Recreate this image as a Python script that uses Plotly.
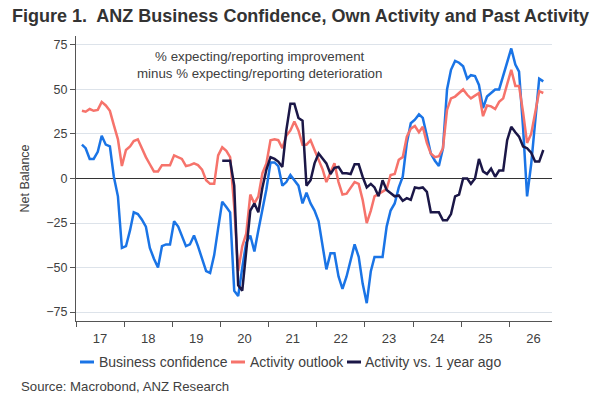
import pandas as pd
import plotly.graph_objects as go

dates = pd.date_range("2017-01-15", periods=116, freq="MS") + pd.Timedelta(days=14)

business_confidence = [
    19, 17, 11, 11, 15, 24, 19, 18, 1, -10, -39, -38,
    -29, -19, -20, -23, -27, -39, -45, -50, -38, -37, -37, -24,
    -27, -32, -38, -37, -32, -38, -45, -52, -53, -43, -28, -13,
    -16, -19, -63, -66, -50, -36, -32, -41, -29, -18, -6, 9,
    9, 7, -4, -2, 2, -1, -4, -14, -8, -14, -18, -24,
    -37, -51, -42, -42, -55, -62, -55, -46, -37, -44, -59, -70,
    -52, -44, -44, -44, -27, -18, -14, -5, 1, 20, 31, 33,
    36, 34, 24, 14, 10, 7, 17, 50, 61, 66, 65, 63,
    56, 58, 57.5, 52.5, 39.5, 46, 48, 50, 50, 58, 66, 73,
    64, 60, 28, -10, 8, 30, 56, 54.5,
]

activity_outlook = [
    38, 37.5, 39, 38, 38.5, 43, 41, 38, 30, 22, 7, 16,
    18, 21, 22, 17, 12, 8, 4, 4, 7.5, 7.5, 7.5, 13,
    12, 11, 7, 7.5, 8.5, 7.5, 5, -1, -3, -3, 13, 17.5,
    15.5, 12, -16, -52, -38, -31, -9, -14, -10, 3, 8.5, 21.5,
    22, 21.5, 17, 24, 27, 32, 27, 19, 19, 21.5, 16, 11,
    5, -2, 3, 8.5, -2, -9, -8.5, -5, -2, -3, -12, -25,
    -18, -10, -8.5, -7.5, -6, 2, 2.5, 10.5, 12, 23.5, 28, 29.5,
    26, 29, 20, 14, 12, 12.5, 17, 38.5, 45, 46, 48, 50,
    47, 45, 46.5, 48, 35, 41, 40.5, 39, 43, 45, 53, 61,
    52, 52, 37, 20, 25, 37, 49, 48,
]

activity_vs_year_ago = [None] * 35 + [
    10,
    10, 10, -4, -60, -63, -40, -18, -14, -19, -5, 5, 12,
    11, 9.5, 6.5, 27, 42, 42, 34, 32.5, -4, -1, 8.5, 14,
    11, 8.5, 2.5, 6, 6.5, 3, 3, 2.5, 8, 8, 1, -5,
    -3, -5, -10, -1, -6.5, -8.5, -10, -9.5, -12.5, -11, -12, -5,
    -5.5, -5, -7.5, -19, -19, -19, -23.5, -23.5, -20, -10, -9, 0,
    0, -3, 0, 11, 4, 2.5, 5.5, 1, 4.5, 4.5, 21.5, 29,
    26, 23.5, 18, 17, 14.5, 9.5, 9.5, 16,
]

series_names = ["Business confidence", "Activity outlook", "Activity vs. 1 year ago"]
y_ticks = [-75, -50, -25, 0, 25, 50, 75]

colors = ["#1a74e6", "#f6736b", "#1b1747"]
FONT = "Liberation Sans, Arial, sans-serif"

L, R, T, B = 76, 48, 36, 90
W, H = 600, 411
PW, PH = W - L - R, H - T - B


def px_x(px):
    return (px - L) / PW


def px_y(py):
    return (H - B - py) / PH


fig = go.Figure()
for name, vals, c in zip(series_names,
                         [business_confidence, activity_outlook, activity_vs_year_ago],
                         colors):
    fig.add_trace(go.Scatter(x=dates, y=vals, name=name, mode="lines",
                             line=dict(color=c, width=2.5), connectgaps=False,
                             showlegend=False))

fig.update_layout(
    width=W, height=H,
    margin=dict(l=L, r=R, t=T, b=B, autoexpand=False),
    paper_bgcolor="white", plot_bgcolor="white",
    font=dict(family=FONT, size=12, color="#404040"),
    title=dict(text="<b>Figure 1.  ANZ Business Confidence, Own Activity and Past Activity</b>",
               x=12 / W, xref="container", xanchor="left",
               y=1 - 16 / H, yref="container", yanchor="middle",
               font=dict(family=FONT, size=18, color="#333333")),
    showlegend=False,
    xaxis=dict(
        type="date",
        range=["2017-01-01", "2026-11-20"],
        tick0="2017-01-01", dtick="M12", tickformat="%y",
        ticklabelmode="period",
        ticks="outside", ticklen=5, tickcolor="#555555",
        showline=True, linecolor="#555555", linewidth=1,
        showgrid=False, zeroline=False, automargin=False,
        tickfont=dict(size=13, color="#404040"),
    ),
    yaxis=dict(
        range=[-80, 80],
        tickvals=y_ticks,
        ticks="outside", ticklen=5, tickcolor="#555555",
        showline=True, linecolor="#555555", linewidth=1,
        showgrid=True, gridcolor="#dde3ea", gridwidth=1,
        zeroline=True, zerolinecolor="#333333", zerolinewidth=1,
        automargin=False,
        tickfont=dict(size=12.5, color="#404040"),
        title=dict(text="Net Balance", font=dict(size=12.5, color="#404040"), standoff=13),
    ),
)

fig.add_annotation(
    text="% expecting/reporting improvement<br>minus % expecting/reporting deterioration",
    xref="paper", yref="paper", x=px_x(259), y=px_y(64.5), xanchor="center", yanchor="middle",
    showarrow=False, align="center", font=dict(size=13.3, color="#404040"),
)

# legend (swatch + label per series)
swatch_px = [(80, 94), (231, 245), (347, 361)]
label_px = [96.5, 248, 363]
leg_y = px_y(362)
for name, c, (x0, x1), lx in zip(series_names, colors, swatch_px, label_px):
    fig.add_shape(type="line", xref="paper", yref="paper",
                  x0=px_x(x0), x1=px_x(x1), y0=leg_y, y1=leg_y,
                  line=dict(color=c, width=3))
    fig.add_annotation(text=name, xref="paper", yref="paper", x=px_x(lx), y=leg_y,
                       xanchor="left", yanchor="middle", showarrow=False,
                       font=dict(size=14, color="#404040"))

fig.add_annotation(
    text="Source: Macrobond, ANZ Research",
    xref="paper", yref="paper", x=px_x(19), y=px_y(386),
    xanchor="left", yanchor="middle", showarrow=False,
    font=dict(size=13.2, color="#404040"),
)

fig.write_html("out.html", config={"displayModeBar": False},
               post_script="document.body.style.margin='0';")
